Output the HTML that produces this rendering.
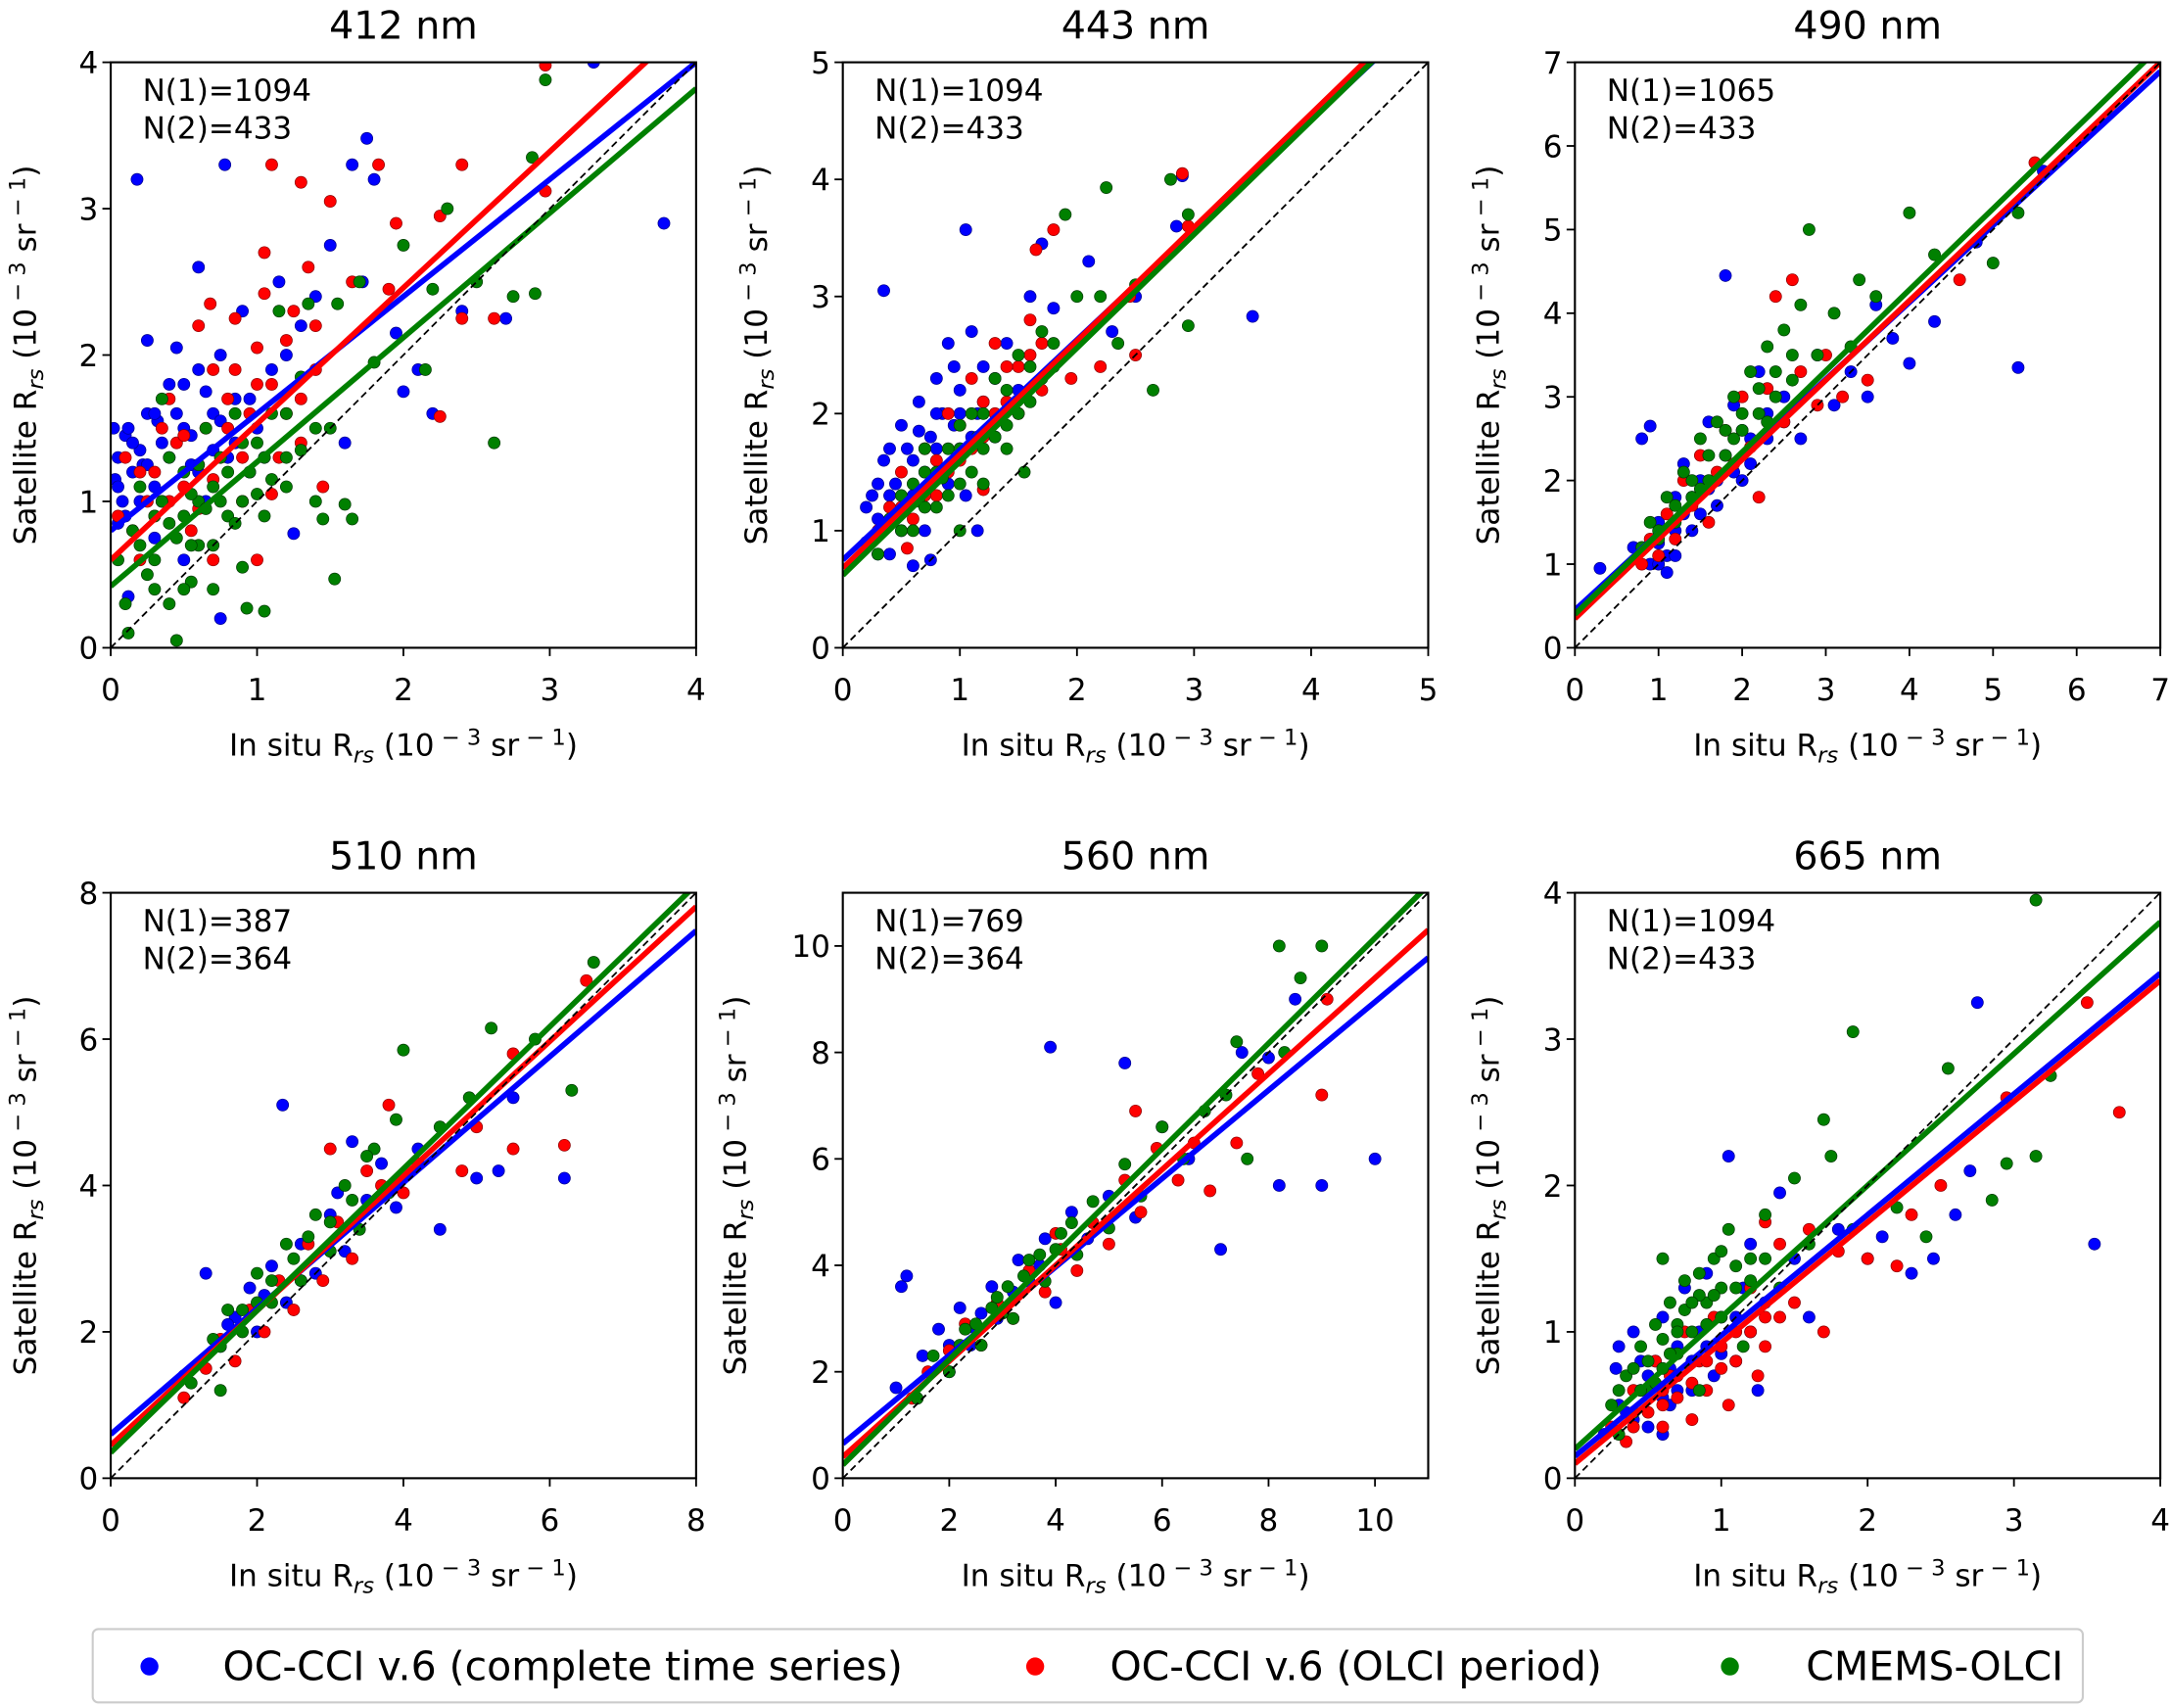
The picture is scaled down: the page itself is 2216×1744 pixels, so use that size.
<!DOCTYPE html>
<html><head><meta charset="utf-8"><style>
html,body{margin:0;padding:0;background:#fff}
svg{display:block;font-family:"DejaVu Sans","Liberation Sans",sans-serif}
</style></head><body>
<svg id="fig" xmlns="http://www.w3.org/2000/svg" width="2216" height="1744" viewBox="0 0 1568 1234">
<rect width="1568" height="1234" fill="#fff"/>
<g id="panels"></g>
<g>
<rect x="67" y="1177" width="1438" height="53" rx="4" fill="#fff" stroke="#cccccc" stroke-width="1.5"/>
<circle cx="108" cy="1204" r="6.5" fill="#0000ff"/>
<text x="161" y="1214" font-size="29">OC-CCI v.6 (complete time series)</text>
<circle cx="748" cy="1204" r="6.5" fill="#ff0000"/>
<text x="802" y="1214" font-size="29">OC-CCI v.6 (OLCI period)</text>
<circle cx="1250" cy="1204" r="6.5" fill="#008000"/>
<text x="1305" y="1214" font-size="29">CMEMS-OLCI</text>
</g>
</svg>
<script>
const titles=["412 nm","443 nm","490 nm","510 nm","560 nm","665 nm"];
const xMax=[4,5,7,8,11,4];
const yMax=[4,5,7,8,11,4];
const xTicks=[[0,1,2,3,4],[0,1,2,3,4,5],[0,1,2,3,4,5,6,7],[0,2,4,6,8],[0,2,4,6,8,10],[0,1,2,3,4]];
const yTicks=[[0,1,2,3,4],[0,1,2,3,4,5],[0,1,2,3,4,5,6,7],[0,2,4,6,8],[0,2,4,6,8,10],[0,1,2,3,4]];
const n1=[1094,1094,1065,387,769,1094];
const n2=[433,433,433,364,364,433];
const slopeBlue=[0.80,0.94,0.92,0.86,0.83,0.825];
const interBlue=[0.80,0.75,0.45,0.60,0.65,0.15];
const slopeRed=[0.93,0.97,0.95,0.92,0.90,0.825];
const interRed=[0.60,0.68,0.35,0.45,0.40,0.10];
const slopeGreen=[0.85,0.97,0.97,0.97,0.99,0.90];
const interGreen=[0.42,0.62,0.40,0.35,0.25,0.20];
const blue=[
[[0.02,1.5],[0.05,1.3],[0.1,1.45],[0.15,1.2],[0.08,1.0],[0.2,1.35],[0.25,1.6],[0.3,1.1],[0.35,1.4],[0.4,1.8],[0.45,2.05],[0.5,1.5],[0.55,1.25],[0.6,1.9],[0.65,1.0],[0.7,1.6],[0.75,2.0],[0.8,1.3],[0.85,1.7],[0.9,2.3],[0.95,1.2],[1.0,1.5],[1.1,1.9],[1.15,2.5],[1.2,2.0],[1.3,2.2],[1.4,2.4],[1.5,2.75],[1.6,1.4],[0.18,3.2],[0.78,3.3],[1.75,3.48],[1.65,3.3],[1.8,3.2],[1.95,2.15],[2.0,1.75],[2.1,1.9],[2.4,2.3],[2.7,2.25],[3.3,4.0],[3.78,2.9],[0.25,2.1],[0.6,2.6],[0.75,0.2],[0.12,0.35],[1.25,0.78],[2.2,1.6],[1.72,2.5],[0.03,1.15],[0.12,1.5],[0.22,1.25],[0.32,1.55],[0.05,0.85]],
[[0.2,0.9],[0.25,1.3],[0.3,1.1],[0.35,1.6],[0.4,0.8],[0.45,1.4],[0.5,1.9],[0.55,1.2],[0.6,1.6],[0.65,2.1],[0.7,1.0],[0.75,1.8],[0.8,2.3],[0.85,1.5],[0.9,2.6],[0.95,1.9],[1.0,2.2],[1.05,1.3],[1.1,2.7],[1.15,2.0],[1.2,2.4],[1.3,1.8],[1.4,2.6],[1.5,2.2],[1.6,3.0],[1.7,3.45],[1.8,2.9],[1.05,3.57],[0.35,3.05],[2.1,3.3],[2.3,2.7],[2.5,3.0],[2.9,4.03],[3.5,2.83],[2.85,3.6],[0.6,0.7],[1.15,1.0],[0.75,0.75],[0.3,1.4],[0.45,1.1],[0.55,1.7],[0.85,2.0],[1.0,1.7]],
[[0.3,0.95],[0.7,1.2],[0.8,2.5],[0.9,2.65],[0.9,1.0],[1.0,1.5],[1.1,1.1],[1.2,1.8],[1.3,2.2],[1.4,1.4],[1.5,2.0],[1.6,2.7],[1.7,1.7],[1.8,4.45],[1.8,2.3],[1.9,2.9],[2.0,2.0],[2.1,2.5],[2.2,3.3],[2.3,2.8],[2.5,3.0],[2.7,2.5],[2.9,3.5],[3.1,2.9],[3.3,3.3],[3.5,3.0],[3.8,3.7],[4.0,3.4],[4.3,3.9],[5.3,3.35],[5.6,5.7],[4.8,4.85],[1.1,0.9],[1.2,1.1],[3.6,4.1],[1.0,1.25],[1.3,1.6],[1.6,1.9]],
[[1.0,1.4],[1.3,2.8],[1.5,1.8],[1.7,2.2],[1.9,2.6],[2.0,2.0],[2.2,2.9],[2.35,5.1],[2.4,2.4],[2.6,3.2],[2.8,2.8],[3.0,3.6],[3.2,3.1],[3.3,4.6],[3.5,3.8],[3.7,4.3],[3.9,3.7],[4.2,4.5],[4.5,3.4],[5.0,4.1],[5.3,4.2],[5.5,5.2],[6.2,4.1],[3.1,3.9],[1.6,2.1],[2.1,2.5],[2.6,2.7]],
[[1.0,1.7],[1.1,3.6],[1.2,3.8],[1.5,2.3],[1.8,2.8],[2.0,2.0],[2.2,3.2],[2.5,2.8],[2.8,3.6],[3.0,3.2],[3.3,4.1],[3.5,3.7],[3.8,4.5],[3.9,8.1],[4.0,3.3],[4.3,5.0],[4.6,4.5],[5.0,5.3],[5.3,7.8],[5.5,4.9],[6.0,6.6],[6.5,6.0],[7.1,4.3],[7.5,8.0],[8.0,7.9],[8.5,9.0],[9.0,5.5],[10.0,6.0],[8.2,5.5],[3.7,4.0],[2.4,2.5],[2.9,3.0]],
[[0.2,0.3],[0.3,0.9],[0.35,0.45],[0.4,1.0],[0.45,0.6],[0.5,0.35],[0.55,0.8],[0.6,1.1],[0.65,0.5],[0.7,0.9],[0.75,1.3],[0.8,0.6],[0.85,1.0],[0.9,1.4],[0.95,0.7],[1.0,1.1],[1.05,2.2],[1.1,0.8],[1.15,1.3],[1.2,1.6],[1.3,1.2],[1.4,1.95],[1.5,1.5],[1.6,1.1],[1.8,1.7],[2.0,1.5],[2.3,1.4],[2.45,1.5],[2.6,1.8],[2.75,3.25],[2.7,2.1],[3.55,1.6],[2.1,1.65],[0.28,0.75],[0.6,0.3],[1.25,0.6]]];
const blueExtra=[
[[0.05,1.1],[0.1,0.9],[0.15,1.4],[0.2,1.0],[0.25,1.25],[0.3,1.6],[0.35,1.0],[0.4,1.3],[0.45,1.6],[0.5,1.8],[0.55,1.45],[0.6,1.2],[0.65,1.75],[0.7,1.35],[0.75,1.55],[0.85,1.4],[0.95,1.7],[1.05,1.3],[0.3,0.75],[0.5,0.6]],
[[0.2,1.2],[0.3,0.8],[0.4,1.3],[0.5,1.0],[0.6,1.3],[0.7,1.5],[0.8,1.7],[0.9,1.4],[1.0,2.0],[1.1,1.8],[1.2,2.1],[1.3,2.3],[0.65,1.85],[0.8,2.0],[0.95,2.4],[0.4,1.7]],
[[1.0,1.0],[1.2,1.4],[1.4,1.8],[1.5,1.6],[1.7,2.0],[1.9,2.1],[2.1,2.2],[2.3,2.5],[2.5,2.7],[2.0,2.6]],
[],
[[2.0,2.5],[2.6,3.1],[3.2,3.5]],
[[0.3,0.5],[0.4,0.4],[0.5,0.7],[0.6,0.55],[0.7,0.6],[0.8,0.8],[0.9,0.9],[1.0,0.85],[1.1,1.1],[1.2,1.0],[0.45,0.8],[0.65,0.75]]];
const red=[
[[0.05,0.9],[0.1,1.3],[0.2,1.2],[0.3,0.9],[0.4,1.7],[0.45,1.4],[0.5,1.1],[0.55,0.8],[0.6,2.2],[0.65,1.5],[0.7,1.9],[0.75,1.3],[0.8,1.7],[0.85,2.25],[0.9,1.0],[0.95,1.6],[1.0,2.05],[1.05,2.7],[1.1,1.8],[1.15,1.3],[1.2,2.1],[1.3,1.7],[1.35,2.6],[1.4,2.2],[1.45,1.1],[1.5,3.05],[1.1,3.3],[1.3,3.18],[1.65,2.5],[1.83,3.3],[1.95,2.9],[2.25,2.95],[2.4,3.3],[2.62,2.25],[2.97,3.98],[2.97,3.12],[2.25,1.58],[0.68,2.35],[1.05,2.42],[1.9,2.45],[2.4,2.25],[0.25,1.0],[0.6,1.25],[0.35,1.5]],
[[0.3,1.0],[0.4,1.2],[0.5,1.5],[0.6,1.1],[0.7,1.7],[0.8,1.3],[0.9,2.0],[1.0,1.6],[1.1,2.3],[1.2,1.8],[1.3,2.6],[1.4,2.1],[1.5,2.4],[1.6,2.8],[1.7,2.2],[1.8,3.57],[1.95,2.3],[2.2,2.4],[2.5,2.5],[2.45,3.0],[2.9,4.05],[2.95,3.6],[1.65,3.4],[1.2,1.35],[0.55,0.85]],
[[0.8,1.0],[0.9,1.3],[1.0,1.1],[1.1,1.6],[1.2,1.3],[1.3,2.0],[1.4,1.7],[1.5,2.3],[1.6,1.5],[1.7,2.1],[1.8,2.6],[1.9,2.2],[2.0,3.0],[2.1,2.4],[2.2,1.8],[2.3,3.1],[2.4,4.2],[2.5,2.7],[2.7,3.3],[2.9,2.9],[3.0,3.5],[3.2,3.0],[3.5,3.2],[4.6,4.4],[5.5,5.8],[2.6,4.4]],
[[1.0,1.1],[1.3,1.5],[1.5,1.9],[1.7,1.6],[1.9,2.3],[2.1,2.0],[2.3,2.7],[2.5,2.3],[2.7,3.2],[2.9,2.7],[3.1,3.5],[3.3,3.0],[3.5,4.2],[3.7,4.0],[3.8,5.1],[4.0,3.9],[4.2,4.3],[4.8,4.2],[5.0,4.8],[5.5,4.5],[5.5,5.8],[6.5,6.8],[6.2,4.55],[3.0,4.5]],
[[1.3,1.5],[1.6,2.0],[2.0,2.4],[2.3,2.9],[2.6,2.5],[2.9,3.3],[3.2,3.0],[3.5,3.9],[3.8,3.5],[4.1,4.3],[4.4,3.9],[4.7,4.8],[5.0,4.4],[5.3,5.6],[5.6,5.0],[5.9,6.2],[6.3,5.6],[6.6,6.3],[6.9,5.4],[7.4,6.3],[7.8,7.6],[9.0,7.2],[9.1,9.0],[5.5,6.9],[4.0,4.6]],
[[0.25,0.35],[0.35,0.25],[0.4,0.6],[0.5,0.45],[0.55,0.8],[0.6,0.35],[0.65,0.7],[0.7,0.55],[0.75,1.0],[0.8,0.4],[0.85,0.8],[0.9,0.6],[0.95,1.1],[1.0,0.75],[1.05,0.5],[1.1,1.0],[1.2,1.3],[1.25,0.7],[1.3,1.1],[1.4,1.6],[1.5,1.2],[1.6,1.7],[1.7,1.0],[1.8,1.55],[2.0,1.5],[2.2,1.45],[2.3,1.8],[2.5,2.0],[2.95,2.6],[3.5,3.25],[3.72,2.5],[1.3,1.75]]];
const redExtra=[
[[0.15,0.8],[0.3,1.2],[0.4,1.0],[0.5,1.45],[0.6,0.95],[0.7,1.15],[0.8,1.5],[0.9,1.3],[1.0,1.8],[1.1,1.05],[1.2,1.6],[1.3,1.4],[1.4,1.9],[0.85,1.9],[1.25,2.3],[0.2,0.6],[0.7,0.6],[1.0,0.6]],
[[0.5,1.2],[0.7,1.3],[0.9,1.5],[1.0,1.9],[1.1,1.7],[1.3,2.0],[1.4,2.4],[1.5,2.0],[1.6,2.5],[0.8,1.6],[1.2,2.1],[1.7,2.6]],
[],[],[],
[[0.4,0.35],[0.5,0.6],[0.6,0.5],[0.7,0.7],[0.8,0.65],[0.9,0.8],[1.0,0.9],[1.1,0.8],[1.2,1.0],[1.3,0.9],[1.4,1.1],[0.6,0.6]]];
const green=[
[[0.05,0.6],[0.1,0.3],[0.15,0.8],[0.2,1.1],[0.25,0.5],[0.3,0.9],[0.35,1.7],[0.4,0.3],[0.45,0.75],[0.5,1.2],[0.55,0.45],[0.6,1.0],[0.65,1.5],[0.7,0.7],[0.75,1.3],[0.8,0.9],[0.85,1.6],[0.9,0.55],[0.95,1.2],[1.0,1.4],[1.05,0.9],[1.1,1.6],[1.15,2.3],[1.2,1.3],[1.3,1.85],[1.35,2.35],[1.4,1.0],[1.45,0.88],[1.5,1.5],[1.55,2.35],[1.6,0.98],[1.65,0.88],[1.7,2.5],[1.8,1.95],[2.0,2.75],[2.15,1.9],[2.3,3.0],[2.5,2.5],[2.62,1.4],[2.75,2.4],[2.88,3.35],[2.9,2.42],[2.97,3.88],[1.53,0.47],[0.45,0.05],[0.93,0.27],[1.05,0.25],[0.12,0.1],[2.2,2.45],[0.6,0.7],[0.75,1.0],[0.9,1.0],[0.55,1.05]],
[[0.3,0.8],[0.4,1.1],[0.5,1.3],[0.6,1.0],[0.7,1.5],[0.8,1.2],[0.9,1.7],[1.0,1.4],[1.1,2.0],[1.2,1.7],[1.3,2.3],[1.4,1.9],[1.5,2.5],[1.6,2.1],[1.7,2.7],[1.8,2.4],[1.9,3.7],[2.0,3.0],[2.2,3.0],[2.35,2.6],[2.5,3.1],[2.65,2.2],[2.95,3.7],[2.95,2.75],[2.8,4.0],[2.25,3.93],[1.55,1.5],[1.0,1.0],[0.65,1.25],[0.85,1.45],[1.15,1.8]],
[[0.8,1.2],[0.9,1.5],[1.0,1.3],[1.1,1.8],[1.2,1.5],[1.3,2.1],[1.4,1.8],[1.5,2.5],[1.6,2.0],[1.7,2.7],[1.8,2.3],[1.9,3.0],[2.0,2.6],[2.1,3.3],[2.2,2.8],[2.3,3.6],[2.4,3.0],[2.5,3.8],[2.6,3.2],[2.7,4.1],[2.8,5.0],[2.9,3.5],[3.1,4.0],[3.3,3.6],[3.6,4.2],[4.0,5.2],[4.3,4.7],[5.0,4.6],[5.3,5.2],[3.4,4.4]],
[[1.1,1.3],[1.4,1.9],[1.5,1.2],[1.6,2.3],[1.8,2.0],[2.0,2.8],[2.2,2.4],[2.4,3.2],[2.6,2.7],[2.8,3.6],[3.0,3.1],[3.2,4.0],[3.4,3.4],[3.6,4.5],[3.8,3.9],[3.9,4.9],[4.0,5.85],[4.5,4.8],[4.9,5.2],[5.2,6.15],[5.8,6.0],[6.3,5.3],[6.6,7.05],[3.5,4.4]],
[[1.4,1.5],[1.7,2.3],[2.0,2.0],[2.3,2.8],[2.6,2.5],[2.9,3.4],[3.2,3.0],[3.5,4.1],[3.8,3.7],[4.1,4.6],[4.4,4.2],[4.7,5.2],[5.0,4.7],[5.3,5.9],[5.6,5.3],[6.0,6.6],[6.4,6.0],[6.8,6.9],[7.2,7.2],[7.4,8.2],[7.6,6.0],[8.2,10.0],[8.6,9.4],[9.0,10.0],[8.3,8.0],[3.0,3.1]],
[[0.25,0.5],[0.3,0.3],[0.35,0.7],[0.4,0.45],[0.45,0.9],[0.5,0.6],[0.55,1.05],[0.6,0.75],[0.65,1.2],[0.7,0.85],[0.75,1.35],[0.8,1.0],[0.85,0.6],[0.9,1.2],[0.95,1.5],[1.0,1.1],[1.05,1.7],[1.1,1.3],[1.15,0.9],[1.2,1.5],[1.3,1.8],[1.4,1.3],[1.5,2.05],[1.6,1.6],[1.7,2.45],[1.75,2.2],[1.9,3.05],[1.9,1.7],[2.2,1.85],[2.4,1.65],[2.55,2.8],[2.85,1.9],[2.95,2.15],[3.15,2.2],[3.15,3.95],[3.25,2.75],[0.6,1.5],[0.7,1.05],[0.85,1.25]]];
const greenExtra=[
[[0.2,0.7],[0.3,0.6],[0.35,1.0],[0.4,0.85],[0.5,0.9],[0.55,0.7],[0.6,1.25],[0.65,0.95],[0.7,1.1],[0.8,1.2],[0.85,0.85],[0.9,1.4],[1.0,1.05],[1.05,1.3],[1.1,1.15],[1.2,1.6],[1.3,1.35],[1.4,1.5],[0.3,0.4],[0.5,0.4],[0.7,0.4],[0.4,1.3],[1.2,1.1]],
[[0.5,1.0],[0.6,1.4],[0.7,1.2],[0.8,1.5],[0.9,1.3],[1.0,1.7],[1.1,1.5],[1.2,2.0],[1.3,1.8],[1.4,2.2],[1.5,2.0],[1.6,2.4],[1.7,2.3],[1.8,2.6],[1.2,1.4],[1.0,1.9],[1.4,1.7],[0.7,1.7]],
[[1.0,1.4],[1.2,1.7],[1.4,2.0],[1.6,2.3],[1.8,2.6],[2.0,2.8],[2.2,3.1],[2.4,3.3],[2.6,3.5],[1.5,1.9],[1.9,2.5],[2.3,2.7]],
[[1.5,1.8],[1.8,2.3],[2.0,2.4],[2.2,2.7],[2.5,3.0],[2.7,3.3],[3.0,3.5],[3.3,3.8]],
[[2.2,2.5],[2.5,2.9],[2.8,3.2],[3.1,3.6],[3.4,3.8],[3.7,4.2],[4.0,4.3],[4.3,4.8]],
[[0.3,0.6],[0.4,0.75],[0.5,0.8],[0.55,0.65],[0.6,0.95],[0.7,1.0],[0.75,1.15],[0.8,1.2],[0.9,1.05],[1.0,1.3],[1.1,1.45],[1.2,1.35],[1.3,1.5],[0.65,0.85],[0.85,1.4],[1.0,1.55],[0.45,0.6],[0.95,1.25]]];

const NS="http://www.w3.org/2000/svg";
const root=document.getElementById('panels');
function mk(tag,attrs,parent){const e=document.createElementNS(NS,tag);for(const k in attrs)e.setAttribute(k,attrs[k]);parent.appendChild(e);return e;}
const colX=[80,609,1138], rowY=[45,645], W=423, H=423;
const yLabX=[18,546,1075,18,531,1075];
const unitsHTML='<tspan dy="-5"> (10</tspan><tspan font-size="16" dy="-8"> &#8722; 3</tspan><tspan dy="8"> sr</tspan><tspan font-size="16" dy="-8"> &#8722; 1</tspan><tspan dy="8">)</tspan>';
titles.forEach((t,i)=>{
  const L=colX[i%3], T=rowY[Math.floor(i/3)];
  const sx=v=>L+v/xMax[i]*W, sy=v=>T+H-v/yMax[i]*H;
  const g=mk('g',{},root);
  
  
  const clipId='clip'+i;
  const cp=mk('clipPath',{id:clipId},g); mk('rect',{x:L,y:T,width:W,height:H},cp);
  const pg=mk('g',{'clip-path':'url(#'+clipId+')'},g);
  const series=[[blue[i].concat(blueExtra[i]),'#0000ff','#00008a'],[red[i].concat(redExtra[i]),'#ff0000','#8a0000'],[green[i].concat(greenExtra[i]),'#008000','#003a00']];
  const names=['occci-complete','occci-olci','cmems'];
  series.forEach((s,si)=>{s[0].forEach(p=>{
    const c=mk('circle',{cx:sx(p[0]),cy:sy(p[1]),r:4.3,fill:s[1],stroke:s[2],'stroke-width':0.5},pg);
    
    
  });});
  const lines=[[slopeBlue[i],interBlue[i],'#0000ff'],[slopeRed[i],interRed[i],'#ff0000'],[slopeGreen[i],interGreen[i],'#008000']];
  lines.forEach((l,li)=>{
    const x2=xMax[i];
    const ln=mk('line',{x1:sx(0),y1:sy(l[1]),x2:sx(x2),y2:sy(l[1]+l[0]*x2),stroke:l[2],'stroke-width':4},pg);
    
    
  });
  const d=mk('line',{x1:sx(0),y1:sy(0),x2:sx(xMax[i]),y2:sy(xMax[i]),stroke:'#000','stroke-width':1.3,'stroke-dasharray':'5,3'},pg);
  
  
  const fr=mk('rect',{x:L,y:T,width:W,height:H,fill:'none',stroke:'#000','stroke-width':1.5},g);
  
  
  xTicks[i].forEach(v=>{
    mk('line',{x1:sx(v),x2:sx(v),y1:T+H,y2:T+H+6,stroke:'#000','stroke-width':1.3},g);
    const tx=mk('text',{x:sx(v),y:T+H+38,'font-size':22,'text-anchor':'middle'},g);tx.textContent=v;
    
    
  });
  yTicks[i].forEach(v=>{
    mk('line',{x1:L-6,x2:L,y1:sy(v),y2:sy(v),stroke:'#000','stroke-width':1.3},g);
    const tx=mk('text',{x:L-9,y:sy(v)+8,'font-size':22,'text-anchor':'end'},g);tx.textContent=v;
    
    
  });
  const ti=mk('text',{x:L+W/2,y:T-17,'font-size':28,'text-anchor':'middle'},g);ti.textContent=t;
  
  
  const a=mk('text',{x:L+23,y:T+28,'font-size':22},g);a.textContent='N(1)='+n1[i];
  
  
  const b=mk('text',{x:L+23,y:T+55,'font-size':22},g);b.textContent='N(2)='+n2[i];
  
  
  const xl=mk('text',{x:L+W/2,y:T+H+78,'font-size':22,'text-anchor':'middle'},g);
  xl.innerHTML='In situ R<tspan font-size="16" dy="5" font-style="italic">rs</tspan>'+unitsHTML;
  
  
  const cy=T+H/2, cx=yLabX[i]+8;
  const yl=mk('text',{x:cx,y:cy,'font-size':22,'text-anchor':'middle',transform:'rotate(-90 '+cx+' '+cy+')'},g);
  yl.innerHTML='Satellite R<tspan font-size="16" dy="5" font-style="italic">rs</tspan>'+unitsHTML;
  
  
});
</script>
</body></html>
